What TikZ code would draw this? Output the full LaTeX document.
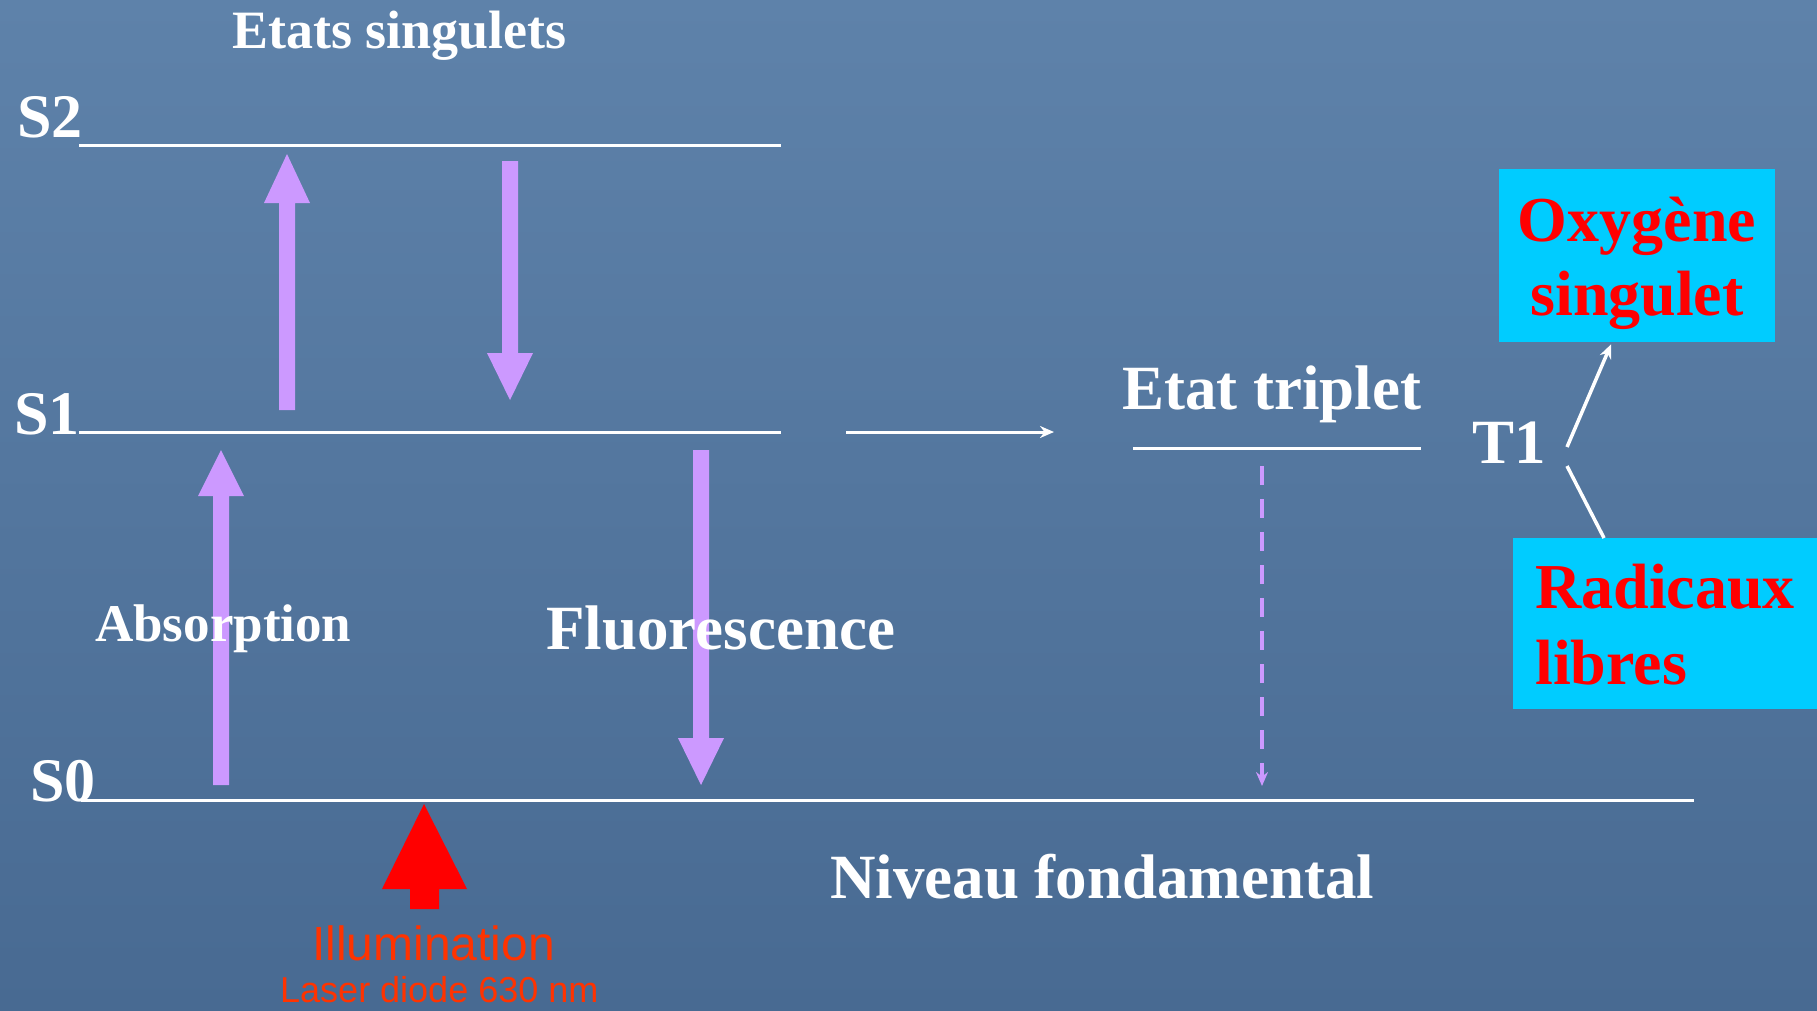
\documentclass[tikz,border=0pt]{standalone}
\usepackage{fontspec}
\setmainfont{Liberation Serif}
\setsansfont{Liberation Sans}
\usetikzlibrary{arrows.meta,calc}
\definecolor{bgtop}{RGB}{94,130,170}
\definecolor{bgbot}{RGB}{72,106,146}
\definecolor{lilac}{RGB}{204,153,255}
\definecolor{boxcyan}{RGB}{0,204,255}
\definecolor{illum}{RGB}{255,51,0}
\begin{document}
\begin{tikzpicture}[x=1pt,y=-1pt,
  lbl/.style={text=white,font=\bfseries\fontsize{63}{70}\selectfont,inner sep=0,anchor=base west},
  slbl/.style={lbl,font=\bfseries\fontsize{62}{70}\selectfont},
  redlbl/.style={text=red,font=\bfseries\fontsize{64}{74}\selectfont,inner sep=0,anchor=base west},
  level/.style={white,line width=3pt},
  thin/.style={white,line width=3pt},
  cbox/.style={fill=boxcyan,draw=none,inner sep=0,rectangle,anchor=north west}]
\shade[top color=bgtop,bottom color=bgbot] (0,0) rectangle (1817,1010);
\useasboundingbox (0,0) rectangle (1817,1010);
% levels
\coordinate (s2a) at (79,145); \coordinate (s2b) at (781,145);
\coordinate (s1a) at (79,432); \coordinate (s1b) at (781,432);
\coordinate (s0a) at (81,800); \coordinate (s0b) at (1694,800);
\coordinate (ta) at (1133,448); \coordinate (tb) at (1421,448);
\draw[level] (s2a) -- (s2b);
\draw[level] (s1a) -- (s1b);
\draw[level] (s0a) -- (s0b);
\draw[level] (ta) -- (tb);
% purple block arrows
\fill[lilac] (279,410) -- (279,203) -- (264,203) -- (287,154) -- (310,203) -- (295,203) -- (295,410) -- cycle;
\fill[lilac] (502,161) -- (518,161) -- (518,353) -- (533,353) -- (510,400) -- (487,353) -- (502,353) -- cycle;
\fill[lilac] (213,785) -- (213,496) -- (198,496) -- (221,450) -- (244,496) -- (229,496) -- (229,785) -- cycle;
\fill[lilac] (693,450) -- (709,450) -- (709,738) -- (724,738) -- (701,785) -- (678,738) -- (693,738) -- cycle;
% red illumination arrow
\fill[red] (424,804) -- (467,889) -- (439,889) -- (439,909) -- (410,909) -- (410,889) -- (382,889) -- cycle;
% labels
\node[lbl,font=\bfseries\fontsize{54}{60}\selectfont] (etats) at (232,48) {Etats singulets};
\node[slbl] (S2) at (17,137) {S2};
\node[slbl] (S1) at (14,434) {S1};
\node[slbl] (S0) at (30,801) {S0};
\node[lbl,font=\bfseries\fontsize{53}{60}\selectfont] (abs) at (95,641) {Absorption};
\node[lbl] (fluo) at (546,649) {Fluorescence};
\node[lbl] (trip) at (1122,409) {Etat triplet};
\node[lbl] (T1) at (1472,463) {T1};
\node[lbl] (niv) at (830,898) {Niveau fondamental};
\node[inner sep=0,anchor=base west,text=illum,font=\sffamily\fontsize{48}{54}\selectfont] (ill) at (312,960) {Illumination};
\node[inner sep=0,anchor=base west,text=illum,font=\sffamily\fontsize{36}{40}\selectfont] (laser) at (280,1002) {Laser diode 630 nm};
% boxes
\node[cbox,minimum width=276pt,minimum height=173pt] (oxy) at (1499,169) {};
\node[redlbl,anchor=base] at (1637,241) {Oxygène};
\node[redlbl,anchor=base] at (1637,315) {singulet};
\node[cbox,minimum width=304pt,minimum height=171pt] (rad) at (1513,538) {};
\node[redlbl] at (1535,608) {Radicaux};
\node[redlbl] at (1535,684) {libres};
% connectors
\coordinate (isc1) at (846,432); \coordinate (isc2) at (1054,432);
\draw[thin,-{Stealth[length=14pt,width=12pt]}] (isc1) -- (isc2);
\coordinate (ph1) at (1262,466); \coordinate (ph2) at (1262,786);
\draw[lilac,line width=4pt,dash pattern=on 19pt off 14pt,-{Stealth[length=14pt,width=12pt]}] (ph1) -- (ph2);
\coordinate (t1up) at (1567,447); \coordinate (t1dn) at (1567,466);
\draw[thin,line width=3.5pt,-{Stealth[length=14pt,width=12pt]}] (t1up) -- ($(oxy.south west)+(112,2)$);
\draw[thin,line width=3.5pt] (t1dn) -- ($(rad.north west)+(91,0)$);
\end{tikzpicture}
\end{document}
